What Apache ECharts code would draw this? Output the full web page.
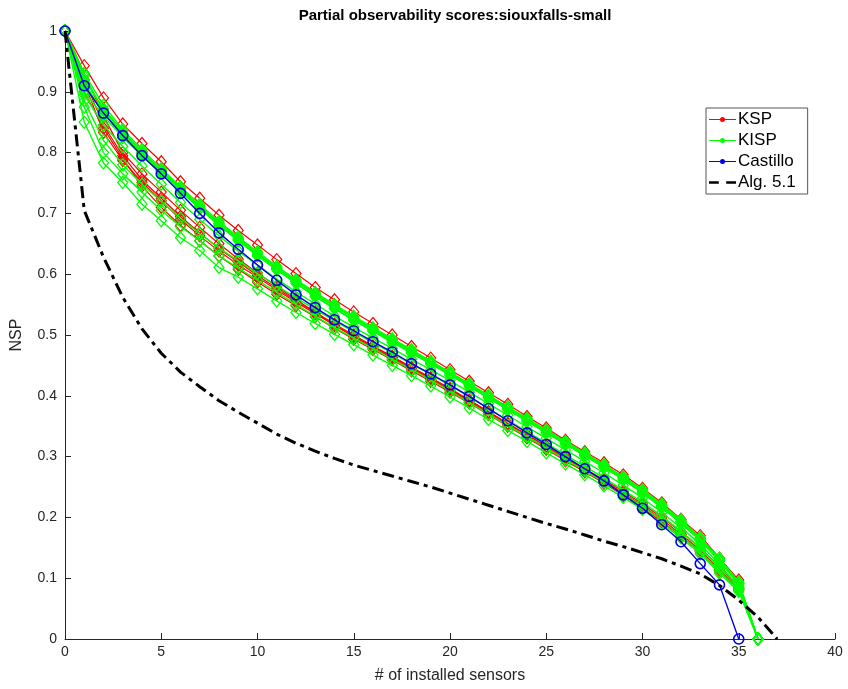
<!DOCTYPE html>
<html><head><meta charset="utf-8">
<script src="https://cdn.jsdelivr.net/npm/echarts@6/dist/echarts.min.js"></script>
<style>html,body{margin:0;padding:0;background:#fff}#c{width:848px;height:689px}</style>
</head><body><div id="c"></div>
<script>
// ---- data ----
var xTicks = [0,5,10,15,20,25,30,35,40];
var castillo = [1.000,0.910,0.865,0.828,0.795,0.765,0.733,0.700,0.668,0.641,0.615,0.590,0.566,0.545,0.525,0.507,0.489,0.472,0.453,0.436,0.418,0.399,0.379,0.359,0.339,0.320,0.300,0.280,0.260,0.237,0.215,0.188,0.160,0.124,0.089,0.000];
var ksp1 = [1.0,0.943,0.89,0.847,0.815,0.785,0.752,0.725,0.697,0.672,0.648,0.624,0.601,0.578,0.558,0.538,0.519,0.5,0.481,0.462,0.443,0.424,0.405,0.386,0.366,0.347,0.327,0.308,0.29,0.27,0.248,0.224,0.197,0.17,0.133,0.097];
var ksp2 = [1.0,0.915,0.833,0.787,0.751,0.721,0.69,0.663,0.638,0.615,0.595,0.574,0.554,0.535,0.516,0.498,0.481,0.464,0.446,0.429,0.411,0.392,0.373,0.354,0.336,0.317,0.298,0.28,0.262,0.243,0.222,0.2,0.176,0.15,0.118,0.085];
var ksp3 = [1.0,0.93,0.86,0.80,0.765,0.735,0.705,0.677,0.65,0.625,0.602,0.58,0.558,0.538,0.518,0.5,0.482,0.465,0.447,0.43,0.412,0.393,0.374,0.355,0.336,0.317,0.298,0.279,0.26,0.24,0.219,0.196,0.172,0.146,0.113,0.082];
var ksp4 = [1.0,0.92,0.845,0.795,0.755,0.725,0.695,0.668,0.642,0.62,0.598,0.577,0.556,0.536,0.516,0.497,0.479,0.462,0.444,0.427,0.409,0.39,0.371,0.352,0.333,0.314,0.296,0.277,0.258,0.239,0.218,0.196,0.172,0.146,0.114,0.083];
var ksp5 = [1.0,0.9,0.84,0.79,0.745,0.71,0.68,0.655,0.63,0.608,0.587,0.567,0.548,0.53,0.511,0.493,0.476,0.459,0.441,0.424,0.406,0.388,0.369,0.35,0.331,0.312,0.293,0.275,0.256,0.236,0.215,0.193,0.169,0.143,0.111,0.081];
var kisp1 = [1.0,0.85,0.783,0.751,0.715,0.688,0.66,0.639,0.611,0.595,0.576,0.556,0.537,0.519,0.501,0.484,0.467,0.45,0.433,0.416,0.398,0.38,0.361,0.343,0.325,0.306,0.288,0.27,0.252,0.233,0.213,0.19,0.166,0.14,0.108,0.078,0];
var kisp2 = [1.0,0.875,0.80,0.765,0.735,0.705,0.678,0.655,0.63,0.61,0.59,0.57,0.55,0.531,0.512,0.495,0.478,0.46,0.443,0.426,0.408,0.389,0.37,0.351,0.333,0.314,0.295,0.277,0.258,0.238,0.218,0.195,0.17,0.144,0.112,0.08,0];
var kisp3 = [1.0,0.9,0.86,0.825,0.795,0.766,0.737,0.708,0.68,0.655,0.63,0.607,0.585,0.563,0.543,0.524,0.506,0.488,0.47,0.452,0.434,0.415,0.396,0.377,0.358,0.339,0.32,0.301,0.282,0.262,0.24,0.216,0.19,0.162,0.128,0.09,0];
var kisp4 = [1.0,0.915,0.865,0.83,0.798,0.768,0.737,0.708,0.681,0.655,0.631,0.608,0.585,0.564,0.544,0.525,0.507,0.489,0.471,0.453,0.435,0.416,0.397,0.378,0.359,0.34,0.321,0.302,0.283,0.263,0.241,0.217,0.191,0.163,0.129,0.091,0];
var kisp5 = [1.0,0.925,0.87,0.832,0.8,0.77,0.74,0.711,0.683,0.657,0.633,0.61,0.588,0.567,0.547,0.528,0.509,0.491,0.473,0.455,0.437,0.418,0.399,0.38,0.361,0.342,0.323,0.304,0.284,0.264,0.242,0.218,0.192,0.164,0.13,0.092,0];
var kisp6 = [1.0,0.895,0.845,0.81,0.778,0.748,0.718,0.69,0.663,0.638,0.615,0.592,0.571,0.551,0.531,0.513,0.495,0.478,0.46,0.443,0.425,0.406,0.387,0.368,0.349,0.33,0.311,0.292,0.273,0.253,0.232,0.208,0.183,0.156,0.122,0.086,0];
var kisp7 = [1.0,0.885,0.82,0.78,0.748,0.72,0.692,0.667,0.643,0.622,0.601,0.581,0.561,0.542,0.523,0.505,0.487,0.47,0.452,0.435,0.417,0.398,0.379,0.36,0.341,0.322,0.303,0.284,0.265,0.245,0.225,0.202,0.177,0.15,0.117,0.083,0];
var kisp8 = [1.0,0.93,0.878,0.838,0.805,0.774,0.744,0.715,0.687,0.661,0.637,0.613,0.591,0.57,0.55,0.531,0.512,0.494,0.476,0.457,0.439,0.42,0.401,0.382,0.363,0.344,0.325,0.306,0.287,0.267,0.246,0.222,0.196,0.167,0.133,0.094,0];
var kisp9 = [1.0,0.92,0.872,0.835,0.802,0.771,0.741,0.712,0.684,0.659,0.635,0.611,0.589,0.568,0.548,0.529,0.51,0.492,0.474,0.456,0.438,0.419,0.4,0.381,0.362,0.343,0.324,0.305,0.286,0.266,0.244,0.22,0.194,0.165,0.131,0.092,0];
var kisp10 = [1.0,0.91,0.865,0.83,0.8,0.77,0.74,0.711,0.684,0.658,0.634,0.61,0.588,0.567,0.547,0.528,0.51,0.492,0.474,0.456,0.438,0.419,0.4,0.381,0.362,0.343,0.324,0.305,0.285,0.265,0.243,0.219,0.193,0.165,0.13,0.091,0];
var algX = [0,1,2,3,4,5,6,7,8,9,10,11,12,13,14,15,16,17,18,19,20,21,22,23,24,25,26,27,28,29,30,31,32,33,34,35,36,37];
var algY = [1.0,0.705,0.628,0.562,0.51,0.47,0.439,0.415,0.392,0.373,0.355,0.337,0.322,0.309,0.297,0.286,0.277,0.268,0.259,0.25,0.24,0.23,0.22,0.21,0.2,0.19,0.181,0.171,0.161,0.152,0.142,0.132,0.12,0.107,0.088,0.064,0.036,0.0];

var kspRuns = [ksp1, ksp2, ksp3, ksp4, ksp5];
var kispRuns = [kisp1, kisp2, kisp3, kisp4, kisp5, kisp6, kisp7, kisp8, kisp9, kisp10];

function pairs(arr){ return arr.map(function(v,i){ return [i, v]; }); }
var FONT = 'Liberation Sans, Arial, Helvetica, sans-serif';
var RED = '#ff0000', GREEN = '#00ff00', BLUE = '#0000e6';

var series = [];
kspRuns.forEach(function(a){
  series.push({type:'line', name:'KSP', data:pairs(a), symbol:'diamond', symbolSize:[10,12],
    lineStyle:{color:RED, width:1.2}, itemStyle:{color:'rgba(0,0,0,0)', borderColor:RED, borderWidth:1.2},
    emphasis:{disabled:true}, animation:false, z:2});
});
kispRuns.forEach(function(a){
  series.push({type:'line', name:'KISP', data:pairs(a), symbol:'diamond', symbolSize:[10,12],
    lineStyle:{color:GREEN, width:1.4}, itemStyle:{color:'rgba(0,0,0,0)', borderColor:GREEN, borderWidth:1.3},
    emphasis:{disabled:true}, animation:false, z:3});
});
series.push({type:'line', name:'Castillo', data:pairs(castillo), symbol:'circle', symbolSize:10,
  lineStyle:{color:BLUE, width:1.4}, itemStyle:{color:'rgba(0,0,0,0)', borderColor:BLUE, borderWidth:1.6},
  emphasis:{disabled:true}, animation:false, z:4});
series.push({type:'line', name:'Alg. 5.1', data:algX.map(function(x,i){return [x, algY[i]];}), symbol:'none',
  lineStyle:{color:'#000', width:3, type:[12,5,4,5]}, itemStyle:{color:'#000'},
  emphasis:{disabled:true}, animation:false, z:5});

var dotIcon = 'path://M0,3.4 L11,3.4 L11,4.6 L0,4.6 Z M16,3.4 L27,3.4 L27,4.6 L16,4.6 Z M11,4 a2.5,2.5 0 1,1 5,0 a2.5,2.5 0 1,1 -5,0 Z';
var dashIcon = 'path://M0,3 L8,3 L8,5 L0,5 Z M14,3 L22,3 L22,5 L14,5 Z';

var option = {
  backgroundColor:'#fff',
  animation:false,
  title:{text:'Partial observability scores:siouxfalls-small', left:450, top:3, textAlign:'center',
    textStyle:{fontFamily:FONT, fontSize:15, fontWeight:'bold', color:'#000'}},
  legend:{orient:'vertical', left:706, top:108, itemWidth:27, itemHeight:8, itemGap:4,
    padding:[3,12,3,3], borderColor:'#555', borderWidth:1, backgroundColor:'#fff',
    textStyle:{fontFamily:FONT, fontSize:17, color:'#000', padding:[0,0,0,-3]},
    data:[
      {name:'KSP', icon:dotIcon, itemStyle:{color:RED, borderWidth:0}},
      {name:'KISP', icon:dotIcon, itemStyle:{color:GREEN, borderWidth:0}},
      {name:'Castillo', icon:dotIcon, itemStyle:{color:BLUE, borderWidth:0}},
      {name:'Alg. 5.1', icon:dashIcon, itemStyle:{color:'#000', borderWidth:0}}
    ]},
  grid:{left:65, right:13, top:31, bottom:49, containLabel:false},
  xAxis:{type:'value', min:0, max:40, interval:5,
    name:'# of installed sensors', nameLocation:'middle', nameGap:29,
    nameTextStyle:{fontFamily:FONT, fontSize:16, color:'#262626'},
    axisLine:{show:true, lineStyle:{color:'#262626', width:1}},
    axisTick:{show:true, inside:true, length:6, lineStyle:{color:'#262626'}},
    axisLabel:{fontFamily:FONT, fontSize:14, color:'#262626', margin:6,
      formatter:function(v){ return xTicks.indexOf(v) >= 0 ? String(v) : ''; }},
    splitLine:{show:false}},
  yAxis:{type:'value', min:0, max:1, interval:0.1,
    name:'NSP', nameLocation:'middle', nameGap:40,
    nameTextStyle:{fontFamily:FONT, fontSize:16, color:'#262626'},
    axisLine:{show:true, lineStyle:{color:'#262626', width:1}},
    axisTick:{show:true, inside:true, length:6, lineStyle:{color:'#262626'}},
    axisLabel:{fontFamily:FONT, fontSize:14, color:'#262626', margin:8,
      formatter:function(v){ return String(Math.round(v*10)/10); }},
    splitLine:{show:false}},
  series:series
};
var chart = echarts.init(document.getElementById('c'), null, {renderer:'canvas'});
chart.setOption(option);
</script></body></html>
